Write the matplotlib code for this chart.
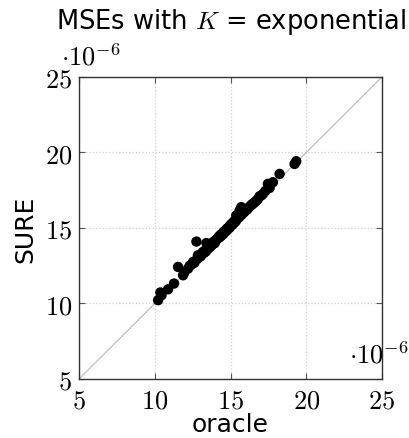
import matplotlib
matplotlib.use('Agg')
import matplotlib.pyplot as plt

# MSE of the oracle vs SURE choice, values in units of 1e-6
oracle = [10.22, 10.37, 10.45, 10.88, 11.27, 11.54, 11.87, 11.95, 12.20, 12.31,
          12.45, 12.53, 12.62, 12.75, 12.80, 12.85, 12.93, 13.00, 13.05, 13.12,
          13.18, 13.25, 13.32, 13.38, 13.41, 13.45, 13.51, 13.55, 13.60, 13.66,
          13.71, 13.75, 13.80, 13.85, 13.90, 13.96, 14.00, 14.05, 14.10, 14.15,
          14.20, 14.25, 14.30, 14.35, 14.40, 14.44, 14.48, 14.52, 14.56, 14.60,
          14.64, 14.68, 14.72, 14.76, 14.80, 14.84, 14.88, 14.92, 14.96, 15.00,
          15.04, 15.08, 15.12, 15.16, 15.20, 15.25, 15.30, 15.35, 15.38, 15.42,
          15.48, 15.55, 15.60, 15.65, 15.71, 15.75, 15.82, 15.90, 15.98, 16.05,
          16.12, 16.20, 16.30, 16.40, 16.48, 16.59, 16.70, 16.80, 16.92, 17.03,
          17.14, 17.30, 17.47, 17.58, 17.80, 18.24, 19.23, 19.34]
sure = [10.22, 10.73, 10.55, 10.94, 11.32, 12.42, 11.87, 12.05, 12.31, 12.50,
        12.60, 12.75, 12.70, 14.10, 12.95, 13.19, 13.05, 13.20, 13.15, 13.30,
        13.41, 13.35, 13.50, 13.45, 14.00, 13.60, 13.74, 13.65, 13.85, 13.75,
        13.90, 13.85, 14.00, 13.95, 14.10, 14.00, 14.15, 14.20, 14.25, 14.30,
        14.35, 14.45, 14.40, 14.55, 14.50, 14.60, 14.65, 14.60, 14.75, 14.70,
        14.80, 14.85, 14.80, 14.95, 14.90, 15.00, 15.05, 15.00, 15.15, 15.10,
        15.25, 15.20, 15.30, 15.25, 15.40, 15.35, 15.50, 15.45, 15.83, 15.60,
        15.65, 15.70, 16.16, 15.80, 16.38, 15.90, 16.00, 16.05, 16.15, 16.20,
        16.25, 16.35, 16.45, 16.55, 16.60, 16.70, 16.80, 16.90, 17.10, 17.15,
        17.25, 17.45, 17.92, 17.65, 18.03, 18.58, 19.24, 19.42]
ticks = [5, 10, 15, 20, 25]
lims = [5, 25]

plt.rcParams['mathtext.fontset'] = 'cm'
plt.rcParams['font.family'] = 'DejaVu Sans'

fig = plt.figure(figsize=(4.10, 4.39), dpi=100)
ax = fig.add_axes([0.1927, 0.1344, 0.739, 0.688])

ax.plot(lims, lims, color='#c0c0c0', lw=0.9, zorder=1)
ax.scatter(oracle, sure, s=56, color='black', edgecolors='none', zorder=3)

ax.set_xlim(lims)
ax.set_ylim(lims)
ax.set_xticks(ticks)
ax.set_yticks(ticks)
ax.set_xticklabels(['$%d$' % t for t in ticks], fontsize=19)
ax.set_yticklabels(['$%d$' % t for t in ticks], fontsize=19)
ax.tick_params(axis='x', pad=6)
ax.tick_params(axis='y', pad=5)
ax.tick_params(direction='in', length=4, width=0.8, color='#555555',
               top=True, right=True)
ax.grid(True, ls=':', color='#d0d0d0', lw=0.9)
ax.set_axisbelow(True)
for s in ax.spines.values():
    s.set_linewidth(1.0)
    s.set_color('#333333')

ax.set_xlabel('oracle', fontsize=18, labelpad=-1)
ax.set_ylabel('SURE', fontsize=18, labelpad=5)
fig.text(0.565, 0.985, 'MSEs with $K$ = exponential', fontsize=18.5,
         ha='center', va='top')

ax.text(-0.058, 1.02, r'$\cdot10^{-6}$', transform=ax.transAxes, fontsize=19,
        ha='left', va='bottom')
ax.text(0.89, 0.035, r'$\cdot10^{-6}$', transform=ax.transAxes, fontsize=19,
        ha='left', va='bottom')

plt.savefig('out.png', dpi=100)
